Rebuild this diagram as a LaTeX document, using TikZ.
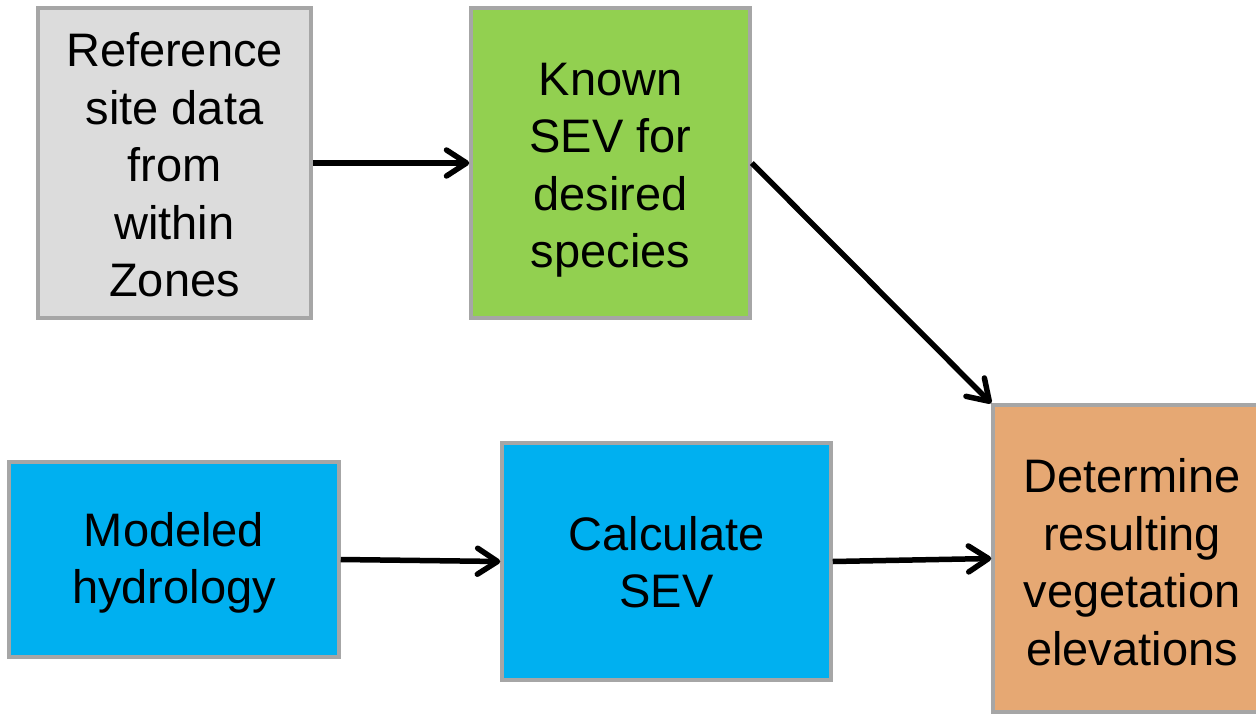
\documentclass[tikz,border=0pt]{standalone}
\usepackage{fontspec}
\setmainfont{Liberation Sans}
\usetikzlibrary{arrows.meta}
\definecolor{bordergray}{HTML}{A6A6A6}
\definecolor{boxgray}{HTML}{DCDCDC}
\definecolor{boxgreen}{HTML}{92D050}
\definecolor{boxblue}{HTML}{00B0F0}
\definecolor{boxorange}{HTML}{E6A873}
\tikzset{
  flowbox/.style={draw=bordergray, line width=3.5pt, inner sep=0pt},
  flowtext/.style={align=center, inner sep=0pt, font=\fontsize{47}{57.5}\selectfont, text=black},
  flowarrow/.style={line width=5.5pt, -{Straight Barb[length=20pt,width=26pt,round]}}
}
\begin{document}
\begin{tikzpicture}[x=1pt,y=-1pt]
\useasboundingbox (0,0) rectangle (1256,715);
\node[flowbox, fill=boxgray, minimum width=273pt, minimum height=310pt] (ref) at (174.5,163) {};
\node[flowtext] (reftext) at (174.5,165) {Reference\\site data\\from\\within\\Zones};
\node[flowbox, fill=boxgreen, minimum width=279pt, minimum height=310pt] (known) at (610.5,163) {};
\node[flowtext] (knowntext) at (610.5,170) {Known\\SEV for\\desired\\species};
\node[flowbox, fill=boxblue, minimum width=330pt, minimum height=195pt] (model) at (174,559.5) {};
\node[flowtext] (modeltext) at (174,563) {Modeled\\hydrology};
\node[flowbox, fill=boxblue, minimum width=329pt, minimum height=237pt] (calc) at (666.5,561.5) {};
\node[flowtext] (calctext) at (666.5,562) {Calculate\\SEV};
\node[flowbox, fill=boxorange, minimum width=280pt, minimum height=307pt] (det) at (1133,558.5) {};
\node[flowtext] (dettext) at (1132,562) {Determine\\resulting\\vegetation\\elevations};
\draw[flowarrow] (ref.east) -- (known.west);
\draw[flowarrow] (known.east) -- (det.north west);
\draw[flowarrow] (model.east) -- (calc.west);
\draw[flowarrow] (calc.east) -- (det.west);
\end{tikzpicture}
\end{document}
